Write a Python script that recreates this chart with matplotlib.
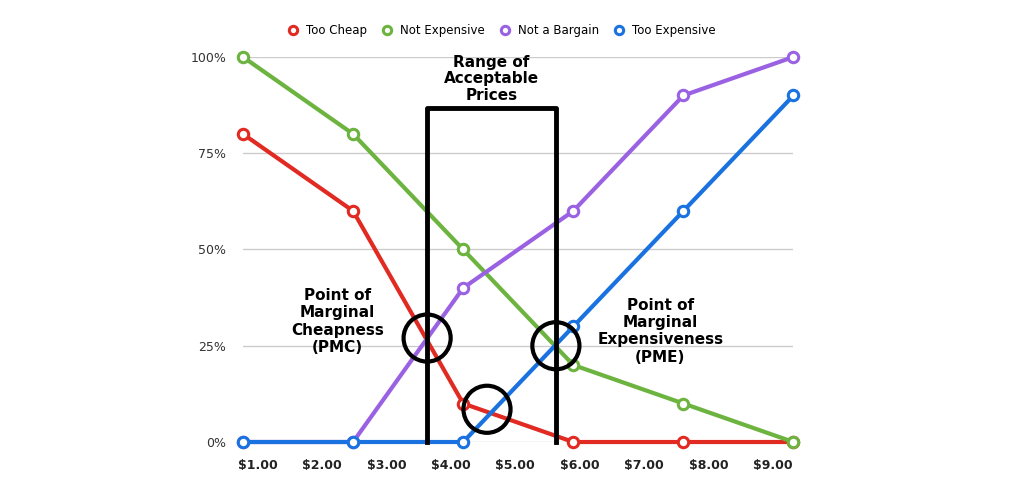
import matplotlib
matplotlib.use("Agg")
import matplotlib.pyplot as plt

# data
prices = [0.77, 2.48, 4.19, 5.90, 7.61, 9.32]
too_cheap = [80, 60, 10, 0, 0, 0]
not_expensive = [100, 80, 50, 20, 10, 0]
not_a_bargain = [0, 0, 40, 60, 90, 100]
too_expensive = [0, 0, 0, 30, 60, 90]

series_names = ["Too Cheap", "Not Expensive", "Not a Bargain", "Too Expensive"]
series_colors = ["#e02a22", "#6cb33f", "#9a62e3", "#1a72e0"]

x_ticks = [1, 2, 3, 4, 5, 6, 7, 8, 9]
x_labels = ["$1.00", "$2.00", "$3.00", "$4.00", "$5.00", "$6.00", "$7.00", "$8.00", "$9.00"]
y_ticks = [0, 25, 50, 75, 100]
y_labels = ["0%", "25%", "50%", "75%", "100%"]

# range of acceptable prices and the crossing points
range_lo, range_hi, range_top = 3.63, 5.63, 86.8
crossings_x = [3.63, 4.56, 5.63]
crossings_y = [27, 8.5, 25]

fig = plt.figure(figsize=(10.27, 4.78), dpi=100)
ax = fig.add_axes([0.2366, 0.0753, 0.7726 - 0.2366, 0.8808 - 0.0753])

all_series = [too_cheap, not_expensive, not_a_bargain, too_expensive]
for name, vals, col in zip(series_names, all_series, series_colors):
    ax.plot(prices, vals, color=col, lw=3, marker="o", ms=7.5, mfc="white",
            mec=col, mew=2.2, label=name, clip_on=False, zorder=3)

ax.set_xlim(prices[0], prices[-1])
ax.set_ylim(0, 100)
ax.set_yticks(y_ticks)
ax.set_yticklabels(y_labels, fontsize=9, color="#333333")
ax.set_xticks(x_ticks)
ax.set_xticklabels(x_labels, fontsize=9, fontweight="bold", color="#222222")
ax.tick_params(length=0)
ax.tick_params(axis="y", pad=12)
ax.tick_params(axis="x", pad=12)
ax.grid(axis="y", color="#cccccc", lw=1)
ax.set_axisbelow(True)
for s in ax.spines.values():
    s.set_visible(False)

# the box
ax.plot([range_lo, range_lo, range_hi, range_hi], [0, range_top, range_top, 0],
        color="black", lw=3.5, zorder=4, clip_on=False)

ax.scatter(crossings_x, crossings_y, s=1150, facecolors="none",
           edgecolors="black", linewidths=3, zorder=5, clip_on=False)

ax.text((range_lo + range_hi) / 2, range_top + 1.2, "Range of\nAcceptable\nPrices",
        ha="center", va="bottom", fontsize=11, fontweight="bold", linespacing=1.15)
ax.text(2.24, 40, "Point of\nMarginal\nCheapness\n(PMC)",
        ha="center", va="top", fontsize=11, fontweight="bold", linespacing=1.2)
ax.text(7.25, 37.5, "Point of\nMarginal\nExpensiveness\n(PME)",
        ha="center", va="top", fontsize=11, fontweight="bold", linespacing=1.2)

leg = ax.legend(loc="lower center", bbox_to_anchor=(0.47, 1.025), ncol=4,
                frameon=False, fontsize=8.5, handlelength=1, handletextpad=0.6,
                columnspacing=1.2)
for h in leg.legend_handles:
    h.set_linestyle("none")
    h.set_markersize(6)

fig.savefig("out.png", dpi=100)
